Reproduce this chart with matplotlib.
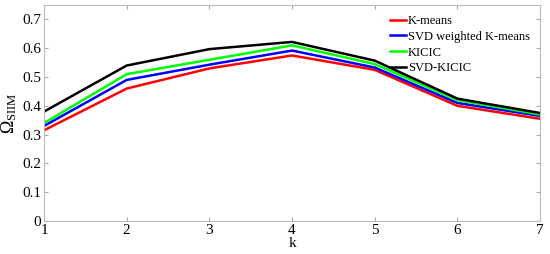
import matplotlib
matplotlib.use('Agg')
import matplotlib.pyplot as plt

plt.rcParams['font.family'] = ['Liberation Serif', 'DejaVu Serif']
plt.rcParams['mathtext.fontset'] = 'custom'
plt.rcParams['mathtext.rm'] = 'Liberation Serif'
plt.rcParams['mathtext.it'] = 'Liberation Serif:italic'

k = [1, 2, 3, 4, 5, 6, 7]
kmeans = [0.315, 0.46, 0.53, 0.575, 0.525, 0.40, 0.355]
svd_kmeans = [0.33, 0.49, 0.543, 0.592, 0.533, 0.41, 0.365]
kicic = [0.34, 0.51, 0.56, 0.61, 0.545, 0.42, 0.37]
svd_kicic = [0.38, 0.54, 0.597, 0.622, 0.557, 0.425, 0.375]

fig = plt.figure(figsize=(5.5, 2.54), dpi=100)
ax = fig.add_axes([0.08, 0.13, 0.902, 0.85])

ax.plot(k, kmeans, color='#ff0000', lw=1.8, label='K-means')
ax.plot(k, svd_kmeans, color='#0000ff', lw=1.8, label='SVD weighted K-means')
ax.plot(k, kicic, color='#00ff00', lw=1.8, label='KICIC')
ax.plot(k, svd_kicic, color='#000000', lw=1.8, label='SVD-KICIC')

ax.set_xlim(1, 7)
ax.set_ylim(0, 0.75)
ax.set_xticks(k)
ax.set_yticks([0, 0.1, 0.2, 0.3, 0.4, 0.5, 0.6, 0.7])
ax.set_yticklabels(['0', '0.1', '0.2', '0.3', '0.4', '0.5', '0.6', '0.7'])
ax.tick_params(direction='in', length=3, color='#aaaaaa', labelsize=11,
               top=True, right=True, pad=2)
for s in ax.spines.values():
    s.set_color('#bbbbbb')

ax.set_xlabel('k', fontsize=11, labelpad=0)
ax.set_ylabel(r'$\Omega_{\mathrm{SIIM}}$', fontsize=13, labelpad=2)

ax.legend(loc='upper right', frameon=False, fontsize=9, handlelength=1.3,
          handletextpad=0.15, labelspacing=0.3, borderaxespad=0.4)

fig.savefig('out.png', dpi=100)
